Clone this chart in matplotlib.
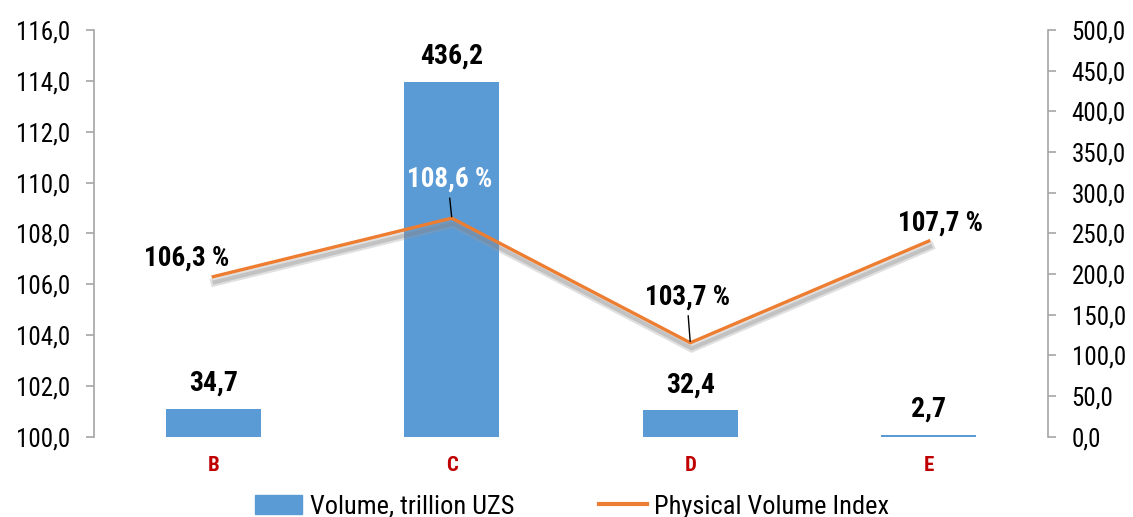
import matplotlib.pyplot as plt
import matplotlib.patheffects as pe
from matplotlib.patches import Patch
from matplotlib.lines import Line2D
from matplotlib import font_manager

names = {f.name for f in font_manager.fontManager.ttflist}
main_font = "Roboto Condensed" if "Roboto Condensed" in names else "Roboto"
plt.rcParams['font.family'] = [main_font, 'DejaVu Sans']

categories = ["B", "C", "D", "E"]
volume = [34.7, 436.2, 32.4, 2.7]
index_pct = [106.3, 108.6, 103.7, 107.7]
left_ticks = [100, 102, 104, 106, 108, 110, 112, 114, 116]
right_ticks = [0, 50, 100, 150, 200, 250, 300, 350, 400, 450, 500]


def fmt(v):
    return f"{v:.1f}".replace(".", ",")


fig = plt.figure(figsize=(11.33, 5.17), dpi=100)
ax = fig.add_axes([0.083, 0.155, 0.842, 0.787])
ax2 = ax.twinx()

x = range(len(categories))
bar_color = "#5B9BD5"
line_color = "#ED7D31"
grey = "#A6A6A6"

# bars on the right-hand scale
ax2.bar(x, volume, width=0.4, color=bar_color, zorder=1)
ax2.set_ylim(0, 500)
ax2.set_yticks(right_ticks)
ax2.set_yticklabels([fmt(t) for t in right_ticks])

# line on the left-hand scale, drawn above the bars
ax.set_zorder(ax2.get_zorder() + 1)
ax.patch.set_visible(False)
ax.plot(x, index_pct, color=line_color, lw=2.4, solid_joinstyle="miter",
        path_effects=[pe.SimpleLineShadow(offset=(1, -4), shadow_color="#9a9a9a",
                                          alpha=0.3, linewidth=6),
                      pe.SimpleLineShadow(offset=(1, -4), shadow_color="#7f7f7f",
                                          alpha=0.3, linewidth=3),
                      pe.Normal()])
ax.set_ylim(100, 116)
ax.set_xlim(-0.5, 3.5)
ax.set_yticks(left_ticks)
ax.set_yticklabels([fmt(t) for t in left_ticks])

for a in (ax, ax2):
    for s in ("top", "bottom"):
        a.spines[s].set_visible(False)
    a.tick_params(axis="y", labelsize=18, colors=grey, labelcolor="black",
                  length=6, width=1.2, pad=11)
ax.spines["left"].set_color(grey)
ax.spines["right"].set_visible(False)
ax2.spines["left"].set_visible(False)
ax2.spines["right"].set_color(grey)
ax.spines["left"].set_linewidth(1.2)
ax2.spines["right"].set_linewidth(1.2)

ax.set_xticks(list(x))
ax.set_xticklabels(categories, color="#C00000", fontweight="bold", fontsize=15)
ax.tick_params(axis="x", length=0, pad=14)

# bar labels
for i, v in enumerate(volume):
    ax2.annotate(fmt(v), (i, v), xytext=(0, 13), textcoords="offset points",
                 ha="center", va="baseline", fontsize=20, fontweight="bold")

# line labels (offsets in points, baseline relative to the point)
offsets = [(-19, 8), (-1.5, 22.5), (-2, 27.5), (8.5, 7.5)]
leaders = [False, True, True, False]
colors = ["black", "white", "black", "black"]
for i, v in enumerate(index_pct):
    dx, dy = offsets[i]
    ax.annotate(fmt(v) + " %", (i, v), xytext=(dx, dy), textcoords="offset points",
                ha="center", va="baseline", fontsize=19.5, fontweight="bold",
                color=colors[i])
    if leaders[i]:
        ax.annotate("", (i, v), xytext=(-1.5, dy - 8), textcoords="offset points",
                    arrowprops=dict(arrowstyle="-", color="black", lw=1,
                                    shrinkA=0, shrinkB=1))

handles = [Patch(color=bar_color, label="Volume, trillion UZS"),
           Line2D([], [], color=line_color, lw=3, label="Physical Volume Index")]
fig.legend(handles=handles, loc="upper center", bbox_to_anchor=(0.505, 0.079),
           ncol=2, frameon=False, fontsize=19, handlelength=1.8,
           handletextpad=0.3, columnspacing=3.2, borderpad=0.2)

fig.savefig("out.png", dpi=100)
